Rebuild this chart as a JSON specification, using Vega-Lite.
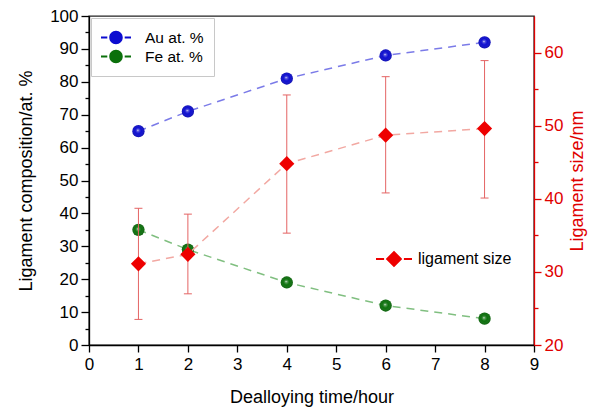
{
  "$schema": "https://vega.github.io/schema/vega-lite/v6.json",
  "width": 445,
  "height": 329,
  "autosize": {"type": "none"},
  "padding": {"left": 89, "top": 16, "right": 56, "bottom": 67},
  "config": {
    "font": "Liberation Sans",
    "view": {"stroke": "#222", "strokeWidth": 1.4},
    "axis": {
      "grid": false,
      "labelFontSize": 17,
      "titleFontSize": 18,
      "titleFontWeight": "normal",
      "labelColor": "#000",
      "titleColor": "#000",
      "domainColor": "#000",
      "tickColor": "#000",
      "domainWidth": 1.3,
      "tickWidth": 1.3,
      "labelOverlap": false,
      "labelFlush": false
    },
    "legend": {"labelFont": "Liberation Sans", "labelColor": "#000"}
  },
  "datasets": {
    "comp": [
      {"t": 1, "series": "Au at. %", "value": 65},
      {"t": 2, "series": "Au at. %", "value": 71},
      {"t": 4, "series": "Au at. %", "value": 81},
      {"t": 6, "series": "Au at. %", "value": 88},
      {"t": 8, "series": "Au at. %", "value": 92},
      {"t": 1, "series": "Fe at. %", "value": 35},
      {"t": 2, "series": "Fe at. %", "value": 29},
      {"t": 4, "series": "Fe at. %", "value": 19},
      {"t": 6, "series": "Fe at. %", "value": 12},
      {"t": 8, "series": "Fe at. %", "value": 8}
    ],
    "lig": [
      {"t": 1, "name": "ligament size", "size": 31.1, "lo": 23.5, "hi": 38.7},
      {"t": 2, "name": "ligament size", "size": 32.4, "lo": 27.0, "hi": 37.9},
      {"t": 4, "name": "ligament size", "size": 44.8, "lo": 35.3, "hi": 54.2},
      {"t": 6, "name": "ligament size", "size": 48.7, "lo": 40.8, "hi": 56.7},
      {"t": 8, "name": "ligament size", "size": 49.6, "lo": 40.1, "hi": 58.9}
    ]
  },
  "layer": [
    {
      "data": {"name": "comp"},
      "encoding": {
        "x": {
          "field": "t",
          "type": "quantitative",
          "title": "Dealloying time/hour",
          "scale": {"domain": [0, 9], "nice": false},
          "axis": {
            "orient": "bottom",
            "values": [0, 0.5, 1, 1.5, 2, 2.5, 3, 3.5, 4, 4.5, 5, 5.5, 6, 6.5, 7, 7.5, 8, 8.5, 9],
            "labelExpr": "datum.value % 1 === 0 ? datum.label : ''",
            "tickSize": {"condition": {"test": "datum.value % 1 === 0", "value": 7}, "value": 4},
            "labelPadding": 4,
            "titlePadding": 16
          }
        },
        "y": {
          "field": "value",
          "type": "quantitative",
          "title": "Ligament composition/at. %",
          "scale": {"domain": [0, 100], "nice": false},
          "axis": {
            "orient": "left",
            "values": [0, 5, 10, 15, 20, 25, 30, 35, 40, 45, 50, 55, 60, 65, 70, 75, 80, 85, 90, 95, 100],
            "labelExpr": "datum.value % 10 === 0 ? datum.label : ''",
            "tickSize": {"condition": {"test": "datum.value % 10 === 0", "value": 8}, "value": 4},
            "labelPadding": 3,
            "titlePadding": 14
          }
        }
      },
      "layer": [
        {
          "mark": {"type": "line", "strokeDash": [8, 6], "strokeWidth": 1.5},
          "encoding": {
            "stroke": {
              "field": "series",
              "type": "nominal",
              "scale": {"domain": ["Au at. %", "Fe at. %"], "range": ["#7b7be8", "#80bf80"]},
              "legend": null
            }
          }
        },
        {
          "mark": {"type": "point", "filled": true, "size": 150, "opacity": 1},
          "encoding": {
            "color": {
              "field": "series",
              "type": "nominal",
              "scale": {"domain": ["Au at. %", "Fe at. %"], "range": ["#0c0cd0", "#0b700b"]},
              "legend": {
                "orient": "none",
                "legendX": 2,
                "legendY": 2,
                "title": null,
                "symbolType": "M-1,-0.07L-0.58,-0.07L-0.58,0.07L-1,0.07Z M0.58,-0.07L1,-0.07L1,0.07L0.58,0.07Z M-0.45,0A0.45,0.45 0 1,0 0.45,0A0.45,0.45 0 1,0 -0.45,0Z",
                "symbolSize": 900,
                "symbolStrokeWidth": 0,
                "labelFontSize": 15.5,
                "labelOffset": 14,
                "padding": 10,
                "strokeColor": "#c8c8c8",
                "clipHeight": 19,
                "rowPadding": 0
              }
            }
          }
        },
        {
          "mark": {
            "type": "point",
            "filled": true,
            "size": 150,
            "opacity": 1,
            "fill": {
              "gradient": "radial",
              "x1": 0.45, "y1": 0.42, "r1": 0,
              "x2": 0.5, "y2": 0.5, "r2": 0.55,
              "stops": [
                {"offset": 0, "color": "rgba(255,255,255,0.95)"},
                {"offset": 0.16, "color": "rgba(255,255,255,0.3)"},
                {"offset": 0.45, "color": "rgba(255,255,255,0)"},
                {"offset": 1, "color": "rgba(0,0,0,0.22)"}
              ]
            }
          }
        }
      ]
    },
    {
      "data": {"name": "lig"},
      "encoding": {
        "x": {"field": "t", "type": "quantitative", "title": "Dealloying time/hour"}
      },
      "layer": [
        {
          "mark": {"type": "rule", "color": "#e46464", "strokeWidth": 1},
          "encoding": {
            "y": {
              "field": "lo",
              "type": "quantitative",
              "title": "Ligament size/nm",
              "scale": {"domain": [20, 65], "nice": false},
              "axis": {
                "orient": "right",
                "values": [20, 25, 30, 35, 40, 45, 50, 55, 60],
                "labelExpr": "datum.value % 10 === 0 ? datum.label : ''",
                "tickSize": {"condition": {"test": "datum.value % 10 === 0", "value": 7}, "value": 4},
                "labelPadding": 3,
                "titlePadding": 6,
                "titleAngle": 270,
                "titleBaseline": "top",
                "domainColor": "#e00000",
                "tickColor": "#e00000",
                "labelColor": "#e00000",
                "titleColor": "#e00000"
              }
            },
            "y2": {"field": "hi"}
          }
        },
        {
          "mark": {"type": "rule", "color": "#e46464", "strokeWidth": 1, "xOffset": -4, "x2Offset": 4},
          "encoding": {
            "x2": {"field": "t"},
            "y": {"field": "hi", "type": "quantitative", "title": "Ligament size/nm"}
          }
        },
        {
          "mark": {"type": "rule", "color": "#e46464", "strokeWidth": 1, "xOffset": -4, "x2Offset": 4},
          "encoding": {
            "x2": {"field": "t"},
            "y": {"field": "lo", "type": "quantitative", "title": "Ligament size/nm"}
          }
        },
        {
          "mark": {"type": "line", "strokeDash": [8, 6], "strokeWidth": 1.5, "color": "#f2a8a2"},
          "encoding": {
            "y": {"field": "size", "type": "quantitative", "title": "Ligament size/nm"}
          }
        },
        {
          "mark": {"type": "point", "shape": "diamond", "filled": true, "size": 230, "opacity": 1},
          "encoding": {
            "y": {"field": "size", "type": "quantitative", "title": "Ligament size/nm"},
            "color": {
              "field": "name",
              "type": "nominal",
              "scale": {"domain": ["ligament size"], "range": ["#ee0000"]},
              "legend": {
                "orient": "none",
                "legendX": 287,
                "legendY": 225,
                "title": null,
                "symbolType": "M-1,-0.06L-0.55,-0.06L-0.55,0.06L-1,0.06Z M0.55,-0.06L1,-0.06L1,0.06L0.55,0.06Z M-0.46,0L0,-0.46L0.46,0L0,0.46Z",
                "symbolSize": 1296,
                "symbolStrokeWidth": 0,
                "labelFontSize": 16,
                "labelOffset": 6,
                "padding": 0
              }
            }
          }
        }
      ]
    }
  ],
  "resolve": {"scale": {"y": "independent", "color": "independent"}}
}
